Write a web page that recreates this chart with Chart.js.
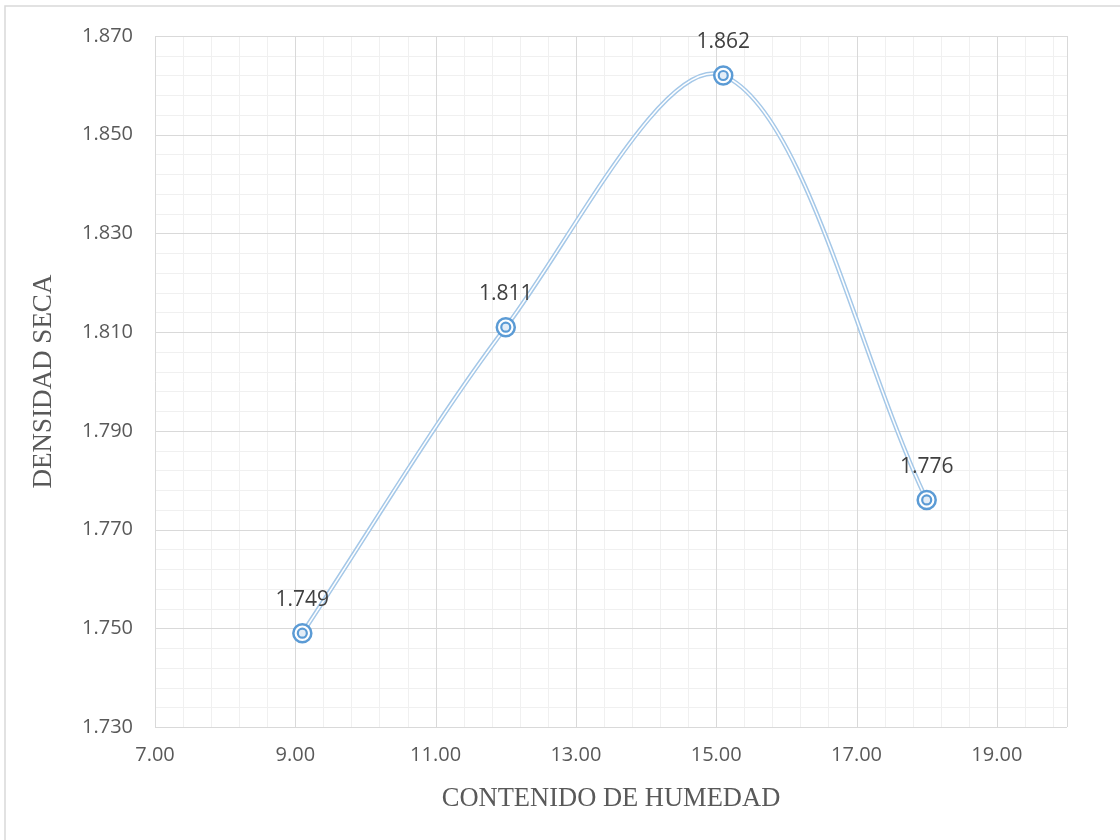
<!DOCTYPE html>
<html>
<head>
<meta charset="utf-8">
<script src="https://cdn.jsdelivr.net/npm/chart.js@4.4.1/dist/chart.umd.min.js"></script>
<style>
  html, body { margin: 0; padding: 0; background: #ffffff; }
  #wrap { width: 1120px; height: 840px; }
</style>
</head>
<body>
<div id="wrap"><canvas id="c" width="1120" height="840"></canvas></div>
<script>
// Compaction curve: moisture content (%) vs dry density
const humedad = [9.1, 12.0, 15.1, 18.0];
const densidad = [1.749, 1.811, 1.862, 1.776];
const densidadEtiquetas = ['1.749', '1.811', '1.862', '1.776'];

const xMin = 7, xMax = 20, xStep = 2;
const yMin = 1.73, yMax = 1.87, yStep = 0.02;

const puntos = humedad.map((x, i) => ({ x: x, y: densidad[i] }));

const MAJOR = '#d9d9d9';
const MINOR = '#f0f0f0';
const TEXT = '#595959';
const TICK_FONT = "'Open Sans', 'Noto Sans', sans-serif";
const TITLE_FONT = "'Liberation Serif', 'DejaVu Serif', serif";

// Minor grid, outer frame and value labels
const extras = {
  id: 'extras',
  beforeDatasetsDraw(chart) {
    const ctx = chart.ctx;
    const xs = chart.scales.x, ys = chart.scales.y;
    const a = chart.chartArea;
    ctx.save();
    ctx.lineWidth = 1;
    ctx.strokeStyle = MINOR;
    for (let v = xMin; v <= xMax + 1e-9; v += xStep / 5) {
      const px = Math.round(xs.getPixelForValue(v)) + 0.5;
      ctx.beginPath(); ctx.moveTo(px, a.top); ctx.lineTo(px, a.bottom); ctx.stroke();
    }
    for (let v = yMin; v <= yMax + 1e-9; v += yStep / 5) {
      const py = Math.round(ys.getPixelForValue(v)) + 0.5;
      ctx.beginPath(); ctx.moveTo(a.left, py); ctx.lineTo(a.right, py); ctx.stroke();
    }
    // major lines on top of minor ones
    ctx.strokeStyle = MAJOR;
    for (let v = xMin; v <= xMax + 1e-9; v += xStep) {
      const px = Math.round(xs.getPixelForValue(v)) + 0.5;
      ctx.beginPath(); ctx.moveTo(px, a.top); ctx.lineTo(px, a.bottom); ctx.stroke();
    }
    const pr = Math.round(xs.getPixelForValue(xMax)) + 0.5;
    ctx.beginPath(); ctx.moveTo(pr, a.top); ctx.lineTo(pr, a.bottom); ctx.stroke();
    for (let i = 0; i <= Math.round((yMax - yMin) / yStep); i++) {
      const py = Math.round(ys.getPixelForValue(yMin + i * yStep)) + 0.5;
      ctx.beginPath(); ctx.moveTo(a.left, py); ctx.lineTo(a.right, py); ctx.stroke();
    }
    ctx.restore();
  },
  afterDraw(chart) {
    const ctx = chart.ctx;
    ctx.save();
    // frame
    ctx.strokeStyle = '#d9d9d9';
    ctx.lineWidth = 1.5;
    ctx.beginPath();
    ctx.moveTo(5, 840); ctx.lineTo(5, 6); ctx.lineTo(1120, 6);
    ctx.stroke();
    // value labels
    const meta = chart.getDatasetMeta(2);
    ctx.fillStyle = '#404040';
    ctx.font = "21px " + TICK_FONT;
    ctx.textAlign = 'center';
    ctx.textBaseline = 'middle';
    meta.data.forEach((pt, i) => {
      ctx.fillText(densidadEtiquetas[i], pt.x, pt.y - 33);
    });
    ctx.restore();
  }
};

new Chart(document.getElementById('c'), {
  type: 'scatter',
  data: {
    datasets: [
      { // outer stroke of the double line
        data: puntos, showLine: true, borderColor: '#a5c8e8', borderWidth: 4.5,
        tension: 0.33, pointRadius: 0, order: 4
      },
      { // inner white stroke
        data: puntos, showLine: true, borderColor: '#ffffff', borderWidth: 1.5,
        tension: 0.33, pointRadius: 0, order: 3
      },
      { // outer marker ring
        data: puntos, showLine: false, pointStyle: 'circle', pointRadius: 9,
        pointBorderWidth: 2.5, pointBorderColor: '#5b9bd5', pointBackgroundColor: '#ffffff', order: 2
      },
      { // inner marker ring
        data: puntos, showLine: false, pointStyle: 'circle', pointRadius: 4.5,
        pointBorderWidth: 2.2, pointBorderColor: '#5b9bd5', pointBackgroundColor: '#e3edf7', order: 1
      }
    ]
  },
  options: {
    responsive: false,
    animation: false,
    layout: { padding: { left: 0, right: 53, top: 36, bottom: 0 } },
    plugins: { legend: { display: false }, tooltip: { enabled: false } },
    scales: {
      x: {
        type: 'linear', min: xMin, max: xMax,
        afterBuildTicks(s) {
          const t = [];
          for (let v = xMin; v < xMax; v += xStep) t.push({ value: v });
          s.ticks = t;
        },
        afterFit(s) { s.height = 113; },
        grid: { display: false, drawTicks: false },
        border: { display: false },
        ticks: {
          color: TEXT, font: { family: TICK_FONT, size: 20 }, padding: 16,
          maxRotation: 0, autoSkip: false,
          callback: (v) => Number(v).toFixed(2)
        },
        title: {
          display: true, text: 'CONTENIDO DE HUMEDAD', color: TEXT,
          font: { family: TITLE_FONT, size: 26.5 }, padding: { top: 0, bottom: 25 }
        }
      },
      y: {
        type: 'linear', min: yMin, max: yMax,
        afterBuildTicks(s) {
          const t = [];
          for (let i = 0; i <= Math.round((yMax - yMin) / yStep); i++) t.push({ value: yMin + i * yStep });
          s.ticks = t;
        },
        afterFit(s) { s.width = 155; },
        grid: { display: false, drawTicks: false },
        border: { display: false },
        ticks: {
          color: TEXT, font: { family: TICK_FONT, size: 20 }, padding: 22,
          autoSkip: false,
          callback: (v) => Number(v).toFixed(3)
        },
        title: {
          display: true, text: 'DENSIDAD SECA', color: TEXT,
          font: { family: TITLE_FONT, size: 27 }, padding: { top: 28, bottom: 0 }
        }
      }
    }
  },
  plugins: [extras]
});
</script>
</body>
</html>
